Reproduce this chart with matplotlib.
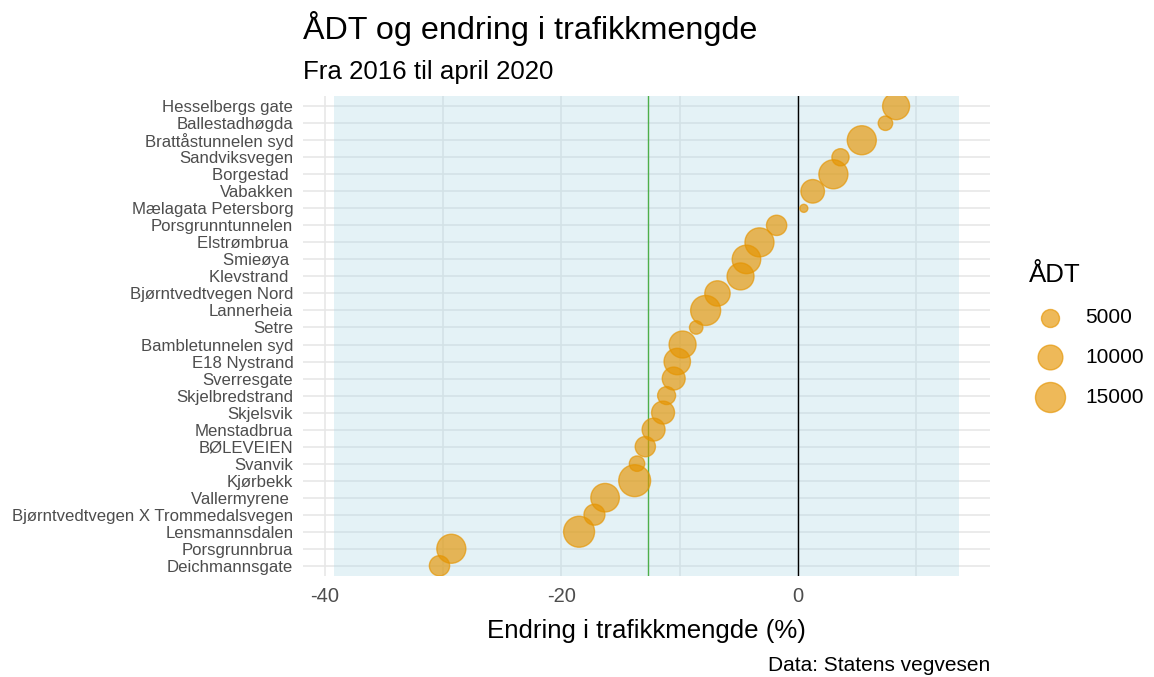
import numpy as np
import matplotlib
matplotlib.use("Agg")
import matplotlib.pyplot as plt

plt.rcParams['font.family'] = ['Liberation Sans', 'DejaVu Sans']

# Data (top to bottom)
steder = ["Hesselbergs gate", "Ballestadhøgda", "Brattåstunnelen syd", "Sandviksvegen",
          "Borgestad ", "Vabakken", "Mælagata Petersborg", "Porsgrunntunnelen",
          "Elstrømbrua ", "Smieøya ", "Klevstrand ", "Bjørntvedtvegen Nord",
          "Lannerheia", "Setre", "Bambletunnelen syd", "E18 Nystrand",
          "Sverresgate", "Skjelbredstrand", "Skjelsvik", "Menstadbrua",
          "BØLEVEIEN", "Svanvik", "Kjørbekk", "Vallermyrene ",
          "Bjørntvedtvegen X Trommedalsvegen", "Lensmannsdalen", "Porsgrunnbrua", "Deichmannsgate"]
endring = [8.3, 7.4, 5.4, 3.6, 3.0, 1.25, 0.5, -1.8,
           -3.25, -4.35, -4.85, -6.8, -7.8, -8.6, -9.75, -10.2,
           -10.5, -11.1, -11.4, -12.2, -12.9, -13.6, -13.8, -16.3,
           -17.2, -18.5, -29.3, -30.3]
adt = [12000, 3000, 14000, 4500, 14000, 9000, 500, 6500,
       14000, 13500, 12000, 10500, 15000, 2500, 12000, 11500,
       8500, 5000, 8500, 8500, 6500, 3500, 17000, 13500,
       7000, 16000, 14000, 6500]
snitt = -12.7          # green reference line
bakgrunn = (-39.2, 13.6)  # shaded band
legend_verdier = [5000, 10000, 15000]
x_ticks = [-40, -20, 0]

ORANGE = "#E59400"
ALPHA = 0.65


def storrelse(v):
    # marker area in pt^2, linear in value (ggplot scale_size style)
    return 18.7 + 0.0299 * np.asarray(v, dtype=float)


fig = plt.figure(figsize=(11.54, 6.77), dpi=100)
ax = fig.add_axes([303 / 1154, 1 - 576 / 677, (990 - 303) / 1154, (576 - 96) / 677])

n = len(steder)
y = np.arange(n)[::-1]

ax.set_xlim(bakgrunn[0] - 0.05 * (bakgrunn[1] - bakgrunn[0]), bakgrunn[1] + 0.05 * (bakgrunn[1] - bakgrunn[0]))
ax.set_ylim(-0.6, n - 0.4)

# grid
for gx in np.arange(-40, 20, 10):
    ax.axvline(gx, color="#E6E6E6", lw=1.1, zorder=0)
for gy in y:
    ax.axhline(gy, color="#E6E6E6", lw=1.1, zorder=0)

ax.axvspan(bakgrunn[0], bakgrunn[1], color="#ADD8E6", alpha=0.33, lw=0, zorder=1)
ax.axvline(snitt, color="#4DAF4A", lw=1.0, zorder=2)
ax.axvline(0, color="black", lw=1.0, zorder=2)

ax.scatter(endring, y, s=storrelse(adt), color=ORANGE, edgecolor=ORANGE, linewidth=1.0, alpha=ALPHA, zorder=3)

ax.set_yticks(y)
ax.set_yticklabels(steder, fontsize=12.1, color="#4D4D4D")
ax.set_xticks(x_ticks)
ax.set_xticklabels([str(t) for t in x_ticks], fontsize=14.5, color="#4D4D4D")
ax.tick_params(length=0, pad=8)
ax.tick_params(axis='y', pad=7)
for s in ax.spines.values():
    s.set_visible(False)

ax.set_xlabel("Endring i trafikkmengde (%)", fontsize=18.6, labelpad=9)

fig.text(303 / 1154, 1 - 39 / 677, "ÅDT og endring i trafikkmengde", fontsize=23.3, va="baseline", ha="left")
fig.text(303 / 1154, 1 - 79 / 677, "Fra 2016 til april 2020", fontsize=18.6, va="baseline", ha="left")
fig.text(990 / 1154, 1 - 671 / 677, "Data: Statens vegvesen", fontsize=15, va="baseline", ha="right")

handles = [ax.scatter([], [], s=storrelse(v), color=ORANGE, edgecolor=ORANGE, linewidth=1.0, alpha=ALPHA)
           for v in legend_verdier]
leg = fig.legend(handles, [str(v) for v in legend_verdier], title="ÅDT", frameon=False,
                 loc="center left", bbox_to_anchor=(1021 / 1154, 1 - 335 / 677),
                 fontsize=15, title_fontsize=18.6, labelspacing=1.0, handletextpad=0.7,
                 borderaxespad=0)
leg._legend_box.align = "left"

fig.savefig("out.png", dpi=100)
